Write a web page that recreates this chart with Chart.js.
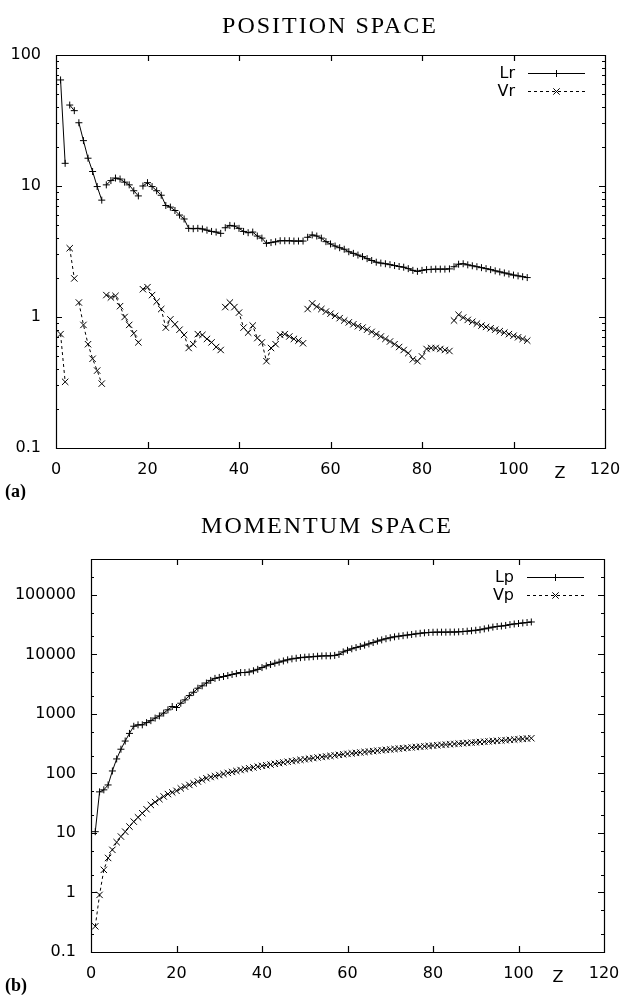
<!DOCTYPE html>
<html>
<head>
<meta charset="utf-8">
<script src="https://cdn.jsdelivr.net/npm/chart.js@4/dist/chart.umd.min.js"></script>
<style>
  html, body { margin: 0; padding: 0; background: #fff; }
  #wrap { position: relative; width: 630px; height: 998px; }
  canvas { position: absolute; left: 0; }
  #posChart { top: 0; }
  #momChart { top: 500px; }
</style>
</head>
<body>
<div id="wrap">
  <canvas id="posChart" width="630" height="500"></canvas>
  <canvas id="momChart" width="630" height="498"></canvas>
</div>
<script>
'use strict';

// atomic number Z, shared by both panels
var zValues = Array.from({length: 103}, function (d, i) { return i + 1; });

// first Z of each new shell: the position space curves are broken there
var segmentStarts = [3, 5, 11, 19, 37, 55, 87];

var lrValues = [
    64.5, 14.9,
    41.5, 37.6,
    30.4, 22.2, 16.3, 12.9, 9.9, 7.8,
    10.2, 11.0, 11.5, 11.3, 10.7, 10.2, 9.2, 8.4,
    10.0, 10.6, 9.9, 9.2, 8.5, 7.1, 6.9, 6.5, 6.0, 5.6, 4.75, 4.72, 4.75, 4.7, 4.6, 4.5, 4.45, 4.35,
    4.8, 5.0, 4.95, 4.75, 4.5, 4.4, 4.45, 4.15, 4.0, 3.65, 3.7, 3.75, 3.82, 3.82, 3.82, 3.8, 3.8, 3.8,
    4.06, 4.23, 4.15, 4.0, 3.76, 3.61, 3.48, 3.38, 3.29, 3.15, 3.06, 2.97, 2.89, 2.79, 2.70, 2.62,
    2.58, 2.55, 2.51, 2.47, 2.43, 2.40, 2.34, 2.27, 2.23, 2.27, 2.30, 2.31, 2.32, 2.32, 2.32, 2.33,
    2.42, 2.53, 2.55, 2.50, 2.46, 2.42, 2.38, 2.34, 2.30, 2.25, 2.21, 2.17, 2.13, 2.09, 2.06, 2.03, 2.00
];
var vrValues = [
    0.74, 0.32,
    3.35, 1.97,
    1.29, 0.87, 0.62, 0.48, 0.39, 0.31,
    1.47, 1.41, 1.45, 1.21, 1.0, 0.87, 0.75, 0.64,
    1.63, 1.69, 1.47, 1.31, 1.15, 0.83, 0.96, 0.88, 0.80, 0.73, 0.58, 0.62, 0.74, 0.73, 0.68, 0.64, 0.59, 0.56,
    1.19, 1.29, 1.19, 1.08, 0.83, 0.76, 0.86, 0.69, 0.64, 0.46, 0.58, 0.62, 0.73, 0.74, 0.71, 0.68, 0.66, 0.63,
    1.15, 1.27, 1.20, 1.15, 1.10, 1.06, 1.02, 0.98, 0.94, 0.91, 0.88, 0.85, 0.83, 0.80, 0.77, 0.74,
    0.71, 0.68, 0.65, 0.62, 0.59, 0.56, 0.53, 0.475, 0.46, 0.50, 0.57, 0.58, 0.58, 0.57, 0.56, 0.55,
    0.94, 1.04, 0.99, 0.95, 0.92, 0.89, 0.86, 0.84, 0.82, 0.80, 0.78, 0.76, 0.74, 0.72, 0.70, 0.68, 0.66
];
var lpValues = [
    10.5, 49, 53, 64, 110, 175, 255, 350, 470, 620,
    655, 655, 714, 770, 850, 925, 1030, 1170, 1330, 1280,
    1510, 1720, 2030, 2310, 2700, 2960, 3300, 3650, 3950, 4100,
    4250, 4400, 4600, 4750, 4950, 4950, 5050, 5300, 5600, 6000,
    6400, 6750, 7100, 7400, 7750, 8100, 8400, 8600, 8800, 8950,
    9050, 9150, 9300, 9400, 9450, 9450, 9600, 10000, 11000, 11700,
    12400, 13000, 13600, 14300, 15000, 15800, 16700, 17500, 18300, 19000,
    19700, 20200, 20600, 21100, 21600, 22100, 22600, 23000, 23300, 23500,
    23600, 23600, 23600, 23700, 23700, 23900, 24200, 24500, 24900, 25400,
    25900, 26800, 27700, 28700, 29400, 29900, 30600, 31600, 32400, 33000,
    33700, 34300, 35000
];
var vpValues = [
    0.27, 0.91, 2.4, 3.8, 5.2, 7.0, 8.7, 10.5, 12.8, 15.5,
    18.3, 21.4, 25, 29.5, 33, 37, 41, 45, 48, 51,
    56, 60, 64, 68, 73, 78, 83, 87, 90, 94,
    98, 102, 106, 110, 114, 118, 122, 126, 130, 134,
    137, 141, 145, 149, 153, 157, 161, 165, 169, 173,
    177, 181, 185, 189, 193, 197, 201, 205, 209, 213,
    217, 221, 225, 229, 233, 237, 241, 245, 249, 253,
    257, 261, 265, 269, 273, 277, 281, 285, 289, 293,
    297, 301, 305, 309, 313, 317, 321, 325, 329, 333,
    337, 341, 345, 349, 353, 357, 361, 366, 371, 376,
    381, 385, 390
];

var xTicks = [0, 20, 40, 60, 80, 100, 120];
var yTicksPos = [0.1, 0.2, 0.3, 0.4, 0.5, 0.6, 0.7, 0.8, 0.9, 1, 2, 3, 4, 5, 6, 7, 8, 9,
    10, 20, 30, 40, 50, 60, 70, 80, 90, 100];
var yTicksMom = [0.1, 0.2, 0.5, 1, 2, 5, 10, 20, 50, 100, 200, 500, 1000, 2000, 5000,
    10000, 20000, 50000, 100000, 200000];

var tickFont = {family: 'DejaVu Sans', size: 16};

function isDecade(v) {
    var l = Math.log10(v);
    return Math.abs(l - Math.round(l)) < 1e-9;
}

function toPoints(values, breaks) {
    var pts = [];
    zValues.forEach(function (z, i) {
        if (breaks && breaks.indexOf(z) >= 0) pts.push({x: z - 0.5, y: null});
        pts.push({x: z, y: values[i]});
    });
    return pts;
}

function lineSet(label, points, dashed) {
    return {
        label: label,
        data: points,
        borderColor: '#000',
        borderWidth: 1,
        borderDash: dashed ? [3, 3] : [],
        pointStyle: dashed ? 'crossRot' : 'cross',
        pointRadius: dashed ? 4.5 : 3.5,
        pointBorderColor: '#000',
        pointBorderWidth: 1,
        fill: false,
        tension: 0,
        spanGaps: false
    };
}

function drawMark(ctx, style, x, y, r) {
    if (style === 'cross') {
        ctx.moveTo(x - r, y); ctx.lineTo(x + r, y);
        ctx.moveTo(x, y - r); ctx.lineTo(x, y + r);
    } else {
        var d = r * 0.7071;
        ctx.moveTo(x - d, y - d); ctx.lineTo(x + d, y + d);
        ctx.moveTo(x + d, y - d); ctx.lineTo(x - d, y + d);
    }
}

// gnuplot style frame, inward ticks, legend and the texts round the plot
var framePlugin = {
    id: 'frame',
    afterDraw: function (chart, args, opts) {
        var ctx = chart.ctx, a = chart.chartArea;
        var x = chart.scales.x, y = chart.scales.y;
        ctx.save();
        ctx.strokeStyle = '#000';
        ctx.fillStyle = '#000';
        ctx.lineWidth = 1.2;
        ctx.beginPath();
        ctx.rect(Math.round(a.left) + 0.5, Math.round(a.top) + 0.5,
            Math.round(a.right - a.left), Math.round(a.bottom - a.top));
        x.ticks.forEach(function (t) {
            var px = Math.round(x.getPixelForValue(t.value)) + 0.5;
            ctx.moveTo(px, a.bottom); ctx.lineTo(px, a.bottom - 6);
            ctx.moveTo(px, a.top); ctx.lineTo(px, a.top + 6);
        });
        y.ticks.forEach(function (t) {
            var py = Math.round(y.getPixelForValue(t.value)) + 0.5;
            var len = isDecade(t.value) ? 6 : 3;
            ctx.moveTo(a.left, py); ctx.lineTo(a.left + len, py);
            ctx.moveTo(a.right, py); ctx.lineTo(a.right - len, py);
        });
        ctx.stroke();
        ctx.lineWidth = 1;

        // legend: name on the left, sample line on the right
        ctx.font = '16px "DejaVu Sans"';
        ctx.textAlign = 'right';
        ctx.textBaseline = 'middle';
        chart.data.datasets.forEach(function (ds, i) {
            var ly = Math.round(a.top + 18 + 18 * i) + 0.5;
            var x0 = a.right - 77, x1 = a.right - 20;
            ctx.fillText(ds.label, a.right - 90, ly);
            ctx.beginPath();
            ctx.setLineDash(ds.borderDash);
            ctx.moveTo(x0, ly); ctx.lineTo(x1, ly);
            ctx.stroke();
            ctx.setLineDash([]);
            ctx.beginPath();
            drawMark(ctx, ds.pointStyle, (x0 + x1) / 2, ly, ds.pointRadius);
            ctx.stroke();
        });

        ctx.textAlign = 'center';
        ctx.fillText('Z', opts.zX, opts.zY);

        ctx.font = '24px "Liberation Serif"';
        if ('letterSpacing' in ctx) ctx.letterSpacing = '2px';
        ctx.textBaseline = 'alphabetic';
        ctx.fillText(opts.title, opts.titleX, opts.titleY);
        if ('letterSpacing' in ctx) ctx.letterSpacing = '0px';

        ctx.textAlign = 'left';
        ctx.font = 'bold 18px "Liberation Serif"';
        ctx.fillText(opts.tag, 5, opts.tagY);
        ctx.restore();
    }
};

function makeChart(id, cfg) {
    return new Chart(document.getElementById(id), {
        type: 'line',
        data: {datasets: cfg.datasets},
        plugins: [framePlugin],
        options: {
            responsive: false,
            devicePixelRatio: 1,
            animation: false,
            events: [],
            layout: {padding: {top: cfg.padTop, right: cfg.padRight, left: 0, bottom: 0}},
            plugins: {
                legend: {display: false},
                tooltip: {enabled: false},
                frame: {
                    title: cfg.title, titleX: cfg.titleX, titleY: 33,
                    tag: cfg.tag, tagY: cfg.tagY, zX: cfg.zX, zY: cfg.zY
                }
            },
            scales: {
                x: {
                    type: 'linear',
                    min: 0,
                    max: 120,
                    grid: {display: false, drawTicks: false},
                    border: {display: false},
                    ticks: {color: '#000', font: tickFont, padding: 12, autoSkip: false, maxRotation: 0},
                    afterBuildTicks: function (scale) {
                        scale.ticks = xTicks.map(function (v) { return {value: v}; });
                    },
                    afterFit: function (scale) {
                        scale.height = cfg.xHeight;
                        scale.paddingLeft = 0;
                        scale.paddingRight = 0;
                    }
                },
                y: {
                    type: 'logarithmic',
                    min: 0.1,
                    max: cfg.yMax,
                    grid: {display: false, drawTicks: false},
                    border: {display: false},
                    ticks: {
                        color: '#000', font: tickFont, padding: 15, autoSkip: false,
                        callback: function (v) {
                            if (!isDecade(v)) return '';
                            return v < 1 ? v.toFixed(1) : String(Math.round(v));
                        }
                    },
                    afterBuildTicks: function (scale) {
                        scale.ticks = cfg.yTicks.map(function (v) { return {value: v}; });
                    },
                    afterFit: function (scale) {
                        scale.width = cfg.yWidth;
                        scale.paddingTop = 0;
                        scale.paddingBottom = 0;
                    }
                }
            }
        }
    });
}

makeChart('posChart', {
    datasets: [
        lineSet('Lr', toPoints(lrValues, segmentStarts), false),
        lineSet('Vr', toPoints(vrValues, segmentStarts), true)
    ],
    yMax: 100, yTicks: yTicksPos,
    yWidth: 56, xHeight: 52, padTop: 55, padRight: 25,
    title: 'POSITION SPACE', titleX: 330, tag: '(a)', tagY: 497, zX: 560, zY: 474
});

makeChart('momChart', {
    datasets: [
        lineSet('Lp', toPoints(lpValues), false),
        lineSet('Vp', toPoints(vpValues), true)
    ],
    yMax: 400000, yTicks: yTicksMom,
    yWidth: 91, xHeight: 46, padTop: 59, padRight: 26,
    title: 'MOMENTUM SPACE', titleX: 327, tag: '(b)', tagY: 491, zX: 558, zY: 478
});
</script>
</body>
</html>
